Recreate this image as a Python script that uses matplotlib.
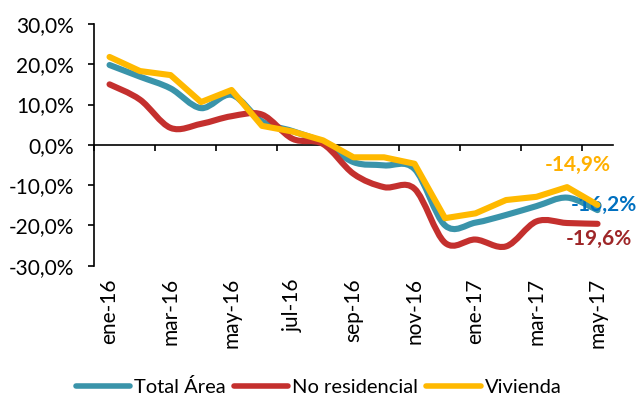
import numpy as np
import matplotlib
matplotlib.use("Agg")
import matplotlib.pyplot as plt
from matplotlib.path import Path
from matplotlib.patches import PathPatch
from matplotlib.lines import Line2D

plt.rcParams['font.family'] = ['Lato', 'DejaVu Sans']

# data (variación interanual, %)
months = ['ene-16', 'feb-16', 'mar-16', 'abr-16', 'may-16', 'jun-16', 'jul-16', 'ago-16',
          'sep-16', 'oct-16', 'nov-16', 'dic-16', 'ene-17', 'feb-17', 'mar-17', 'abr-17', 'may-17']
total_area = [19.8, 16.9, 14.0, 9.1, 12.4, 5.8, 3.4, 0.6, -4.3, -5.1, -6.0,
              -20.0, -19.3, -17.4, -15.2, -13.1, -16.2]
no_residencial = [15.0, 11.2, 4.2, 5.2, 7.1, 7.5, 1.5, 0.2, -7.2, -10.5, -10.9,
                  -24.3, -23.5, -25.2, -19.0, -19.4, -19.6]
vivienda = [21.8, 18.3, 17.3, 10.6, 13.6, 4.7, 3.3, 1.1, -3.1, -3.1, -4.7,
            -18.2, -17.0, -13.7, -12.9, -10.5, -14.9]
y_ticks = [-30, -20, -10, 0, 10, 20, 30]
y_labels = ['-30,0%', '-20,0%', '-10,0%', '0,0%', '10,0%', '20,0%', '30,0%']

C_TOTAL = '#3A94AA'
C_NORES = '#C4302E'
C_VIV = '#FFB900'


def smooth_path(xs, ys):
    # excel-like smoothed line: cubic bezier through the points
    n = len(xs)
    verts = [(xs[0], ys[0])]
    codes = [Path.MOVETO]
    for i in range(n - 1):
        xp, yp = (xs[i - 1], ys[i - 1]) if i > 0 else (xs[i], ys[i])
        xn, yn = (xs[i + 2], ys[i + 2]) if i + 2 < n else (xs[i + 1], ys[i + 1])
        c1 = (xs[i] + (xs[i + 1] - xp) / 6, ys[i] + (ys[i + 1] - yp) / 6)
        c2 = (xs[i + 1] - (xn - xs[i]) / 6, ys[i + 1] - (yn - ys[i]) / 6)
        verts += [c1, c2, (xs[i + 1], ys[i + 1])]
        codes += [Path.CURVE4] * 3
    return Path(verts, codes)


fig = plt.figure(figsize=(6.37, 4.12), dpi=100)
ax = fig.add_axes([0.148, 0.355, 0.814, 0.587])

x = np.arange(len(months))
lw = 4.4

ax.add_patch(PathPatch(smooth_path(x, total_area), fill=False, edgecolor=C_TOTAL,
                       lw=lw, capstyle='round', joinstyle='round', zorder=3))
ax.add_patch(PathPatch(smooth_path(x, no_residencial), fill=False, edgecolor=C_NORES,
                       lw=lw, capstyle='round', joinstyle='round', zorder=4))
ax.plot(x, vivienda, color=C_VIV, lw=lw, solid_capstyle='round',
        solid_joinstyle='round', zorder=5)

ax.set_xlim(-0.5, len(months) - 0.5)
ax.set_ylim(-30, 30)

# y axis
ax.set_yticks(y_ticks)
ax.set_yticklabels(y_labels)
ax.tick_params(axis='y', direction='out', length=4.5, width=1.2, pad=10,
               labelsize=15, colors='black')

# x axis drawn at zero, ticks between categories
ax.spines['bottom'].set_position(('data', 0))
ax.spines['top'].set_visible(False)
ax.spines['right'].set_visible(False)
ax.spines['left'].set_linewidth(1.2)
ax.spines['bottom'].set_linewidth(1.2)
ax.set_xticks(np.arange(-0.5, len(months) - 1, 2))
ax.set_xticklabels([])
ax.tick_params(axis='x', direction='out', length=4.5, width=1.2)

sec = ax.secondary_xaxis('bottom')
sec.set_xticks(x[::2])
sec.set_xticklabels(months[::2], rotation=90, va='top', ha='center')
sec.tick_params(length=0, pad=9, labelsize=15)
sec.spines['bottom'].set_visible(False)

# end labels
ax.annotate('-14,9%', xy=(x[-1], vivienda[-1]), xytext=(-14, 29),
            textcoords='offset points', ha='center', va='center',
            color='#FFB000', fontsize=15, fontweight='bold')
ax.annotate('-16,2%', xy=(x[-1], total_area[-1]), xytext=(4.5, 4),
            textcoords='offset points', ha='center', va='center',
            color='#0070C0', fontsize=15, fontweight='bold', annotation_clip=False)
ax.annotate('-19,6%', xy=(x[-1], no_residencial[-1]), xytext=(1, -11),
            textcoords='offset points', ha='center', va='center',
            color='#9E2628', fontsize=15, fontweight='bold')

handles = [Line2D([], [], color=C_TOTAL, lw=4, solid_capstyle='round'),
           Line2D([], [], color=C_NORES, lw=4, solid_capstyle='round'),
           Line2D([], [], color=C_VIV, lw=4, solid_capstyle='round')]
fig.legend(handles, ['Total Área', 'No residencial', 'Vivienda'], loc='lower center',
           bbox_to_anchor=(0.5, -0.005), ncol=3, frameon=False, fontsize=14.5,
           handlelength=2.7, handletextpad=0.2, columnspacing=0.4)

fig.savefig('out.png', dpi=100)
